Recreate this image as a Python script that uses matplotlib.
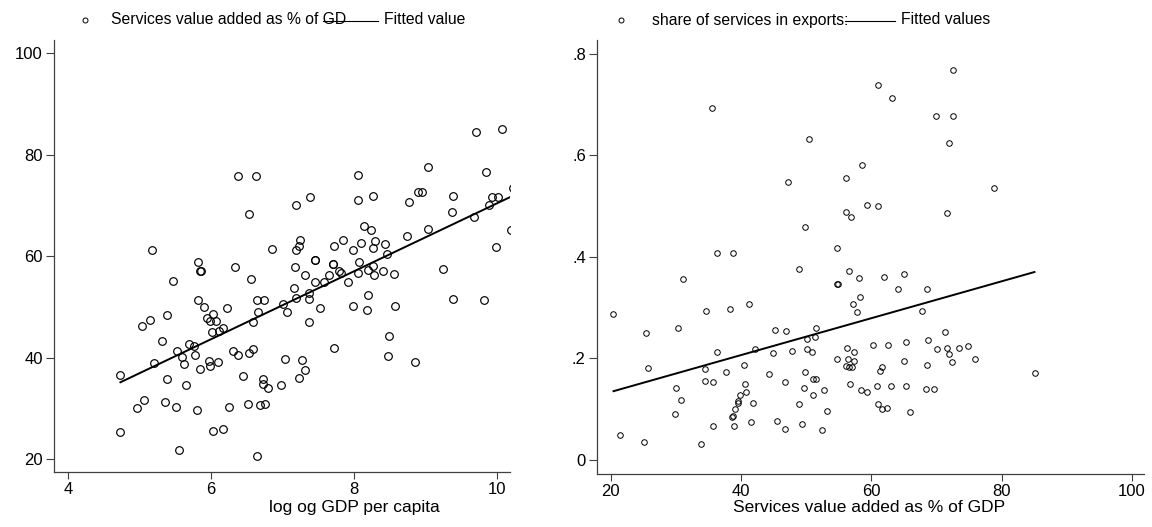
import numpy as np
import matplotlib
matplotlib.use("Agg")
import matplotlib.pyplot as plt
from matplotlib.lines import Line2D
from matplotlib.ticker import FuncFormatter

plt.rcParams['font.family'] = ['Liberation Sans', 'DejaVu Sans']
plt.rcParams['font.size'] = 11

# log GDP per capita vs services value added (% of GDP)
gdp_x = [6.38, 6.63, 6.53, 5.17, 6.85, 5.82, 5.85, 5.86, 6.33, 5.47, 6.56,
         9.71, 10.07, 9.03, 8.05, 9.84, 8.05, 8.26, 7.38, 7.19, 8.89, 8.95, 8.77,
         9.39, 9.93, 10.01, 9.89, 10.22, 10.19, 10.26, 9.37, 9.68, 9.03, 9.99, 8.74,
         8.14, 8.24, 8.29, 8.09, 8.43, 8.26, 8.46, 7.98, 7.84, 7.72, 7.25, 7.23,
         7.19, 7.45, 7.46, 7.70, 7.71, 7.18, 7.31, 7.45, 7.58, 7.65, 7.79, 7.82,
         7.91, 8.07, 8.06, 8.19, 8.26, 8.28, 8.41, 8.56, 9.24, 7.16,
         7.37, 7.19, 7.37, 7.00, 7.06, 7.52, 7.99, 8.18, 8.57, 8.20, 9.39, 9.82,
         7.37, 8.49, 7.72, 8.48, 8.85, 7.04, 7.27, 7.31, 7.23, 6.98,
         5.82, 5.90, 6.22, 6.64, 6.74, 6.65, 5.38, 5.14, 5.04, 6.03, 5.95, 5.99,
         6.07, 6.58, 6.16, 6.11, 6.01, 5.32, 5.69, 5.76, 5.52, 6.31, 6.38, 6.53,
         6.58, 5.59, 5.78, 5.20, 5.62, 5.97, 5.99, 6.09, 4.72, 5.84, 5.38, 5.65,
         6.45, 6.73, 6.73, 6.79, 5.06, 4.97, 5.36, 5.51, 5.80, 6.25, 6.52, 6.68,
         6.75, 4.72, 6.03, 6.16, 5.55, 6.64]
serv_y = [75.9, 75.9, 68.4, 61.3, 61.4, 58.9, 57.2, 57.1, 57.9, 55.2, 55.5,
          84.6, 85.2, 77.7, 76.1, 76.7, 71.2, 72.0, 71.7, 70.2, 72.7, 72.7, 70.7,
          72.0, 71.7, 71.7, 70.2, 73.4, 65.2, 68.8, 68.8, 67.8, 65.4, 61.8, 64.1,
          66.0, 65.2, 63.1, 62.6, 62.5, 61.7, 60.4, 61.2, 63.3, 62.1, 63.2, 62.1,
          61.3, 59.4, 59.4, 58.5, 58.5, 57.9, 56.4, 54.9, 54.9, 56.4, 57.1, 56.7,
          54.9, 58.9, 56.8, 57.3, 58.1, 56.3, 57.2, 56.5, 57.5, 53.7,
          52.9, 51.8, 51.6, 50.6, 49.1, 49.8, 50.2, 49.5, 50.3, 52.5, 51.6, 51.4,
          47.0, 44.4, 42.0, 40.4, 39.2, 39.8, 39.7, 37.6, 36.0, 34.7,
          51.4, 50.1, 49.9, 51.4, 51.4, 49.1, 48.5, 47.4, 46.3, 48.6, 47.8, 47.3,
          47.2, 47.0, 45.9, 45.3, 45.1, 43.3, 42.8, 42.4, 41.4, 41.4, 40.6, 41.0,
          41.8, 40.1, 40.6, 39.1, 38.9, 39.4, 38.5, 39.2, 36.6, 37.9, 35.9, 34.6,
          36.5, 35.9, 34.9, 34.1, 31.8, 30.2, 31.3, 30.3, 29.7, 30.4, 31.0, 30.7,
          30.9, 25.4, 25.7, 26.0, 21.8, 20.6]

# services value added (% of GDP) vs share of services in exports
va_x = [35.6, 47.2, 36.4, 38.8, 31.05, 72.5, 61.1, 63.2, 70.0, 72.5, 50.4, 71.9,
        58.6, 56.1, 59.3, 61.0, 56.2, 56.9, 71.6, 49.9, 54.7, 48.9, 56.6, 58.1,
        62.0, 65.1, 54.8, 54.9, 64.1, 68.5, 58.3, 57.2, 57.8, 67.8, 46.9, 51.5,
        51.3, 50.2, 47.8, 50.1, 50.9, 56.3, 57.3, 60.2, 62.6, 65.4, 68.7, 71.4,
        70.1, 71.6, 71.9, 73.5, 74.9, 72.4, 76.0, 54.7, 56.5, 57.3, 56.2, 56.6,
        57.1, 61.7, 61.4, 65.1, 68.5, 49.8, 46.8, 51.0, 51.5, 49.7, 52.7, 51.1,
        56.8, 58.4, 59.3, 60.9, 63.1, 65.3, 68.4, 69.6, 48.9, 53.2, 61.1, 61.7,
        62.4, 65.9, 46.8, 49.4, 52.4, 20.3, 41.3, 38.3, 34.7, 25.5, 30.3, 45.3,
        36.3, 42.1, 44.9, 25.7, 34.5, 40.4, 37.7, 44.3, 34.5, 35.7, 30.0, 40.6,
        40.8, 39.8, 39.6, 41.8, 39.5, 39.1, 38.8, 38.6, 38.9, 30.8, 29.9, 41.6,
        35.7, 45.6, 21.5, 25.1, 33.9, 78.9, 85.2]
exp_y = [.693, .548, .408, .408, .356, .769, .738, .714, .678, .677, .633, .625,
         .581, .556, .503, .500, .488, .479, .487, .459, .417, .376, .373, .359,
         .361, .366, .346, .346, .337, .336, .321, .308, .292, .293, .254, .260,
         .243, .238, .215, .218, .213, .220, .212, .226, .227, .232, .236, .252,
         .218, .221, .209, .221, .225, .193, .199, .198, .198, .196, .185, .183,
         .183, .184, .176, .195, .187, .173, .154, .160, .160, .142, .137, .129,
         .150, .137, .133, .145, .146, .145, .140, .140, .111, .097, .110, .101,
         .102, .094, .062, .070, .060, .287, .307, .297, .293, .250, .261, .256,
         .213, .218, .210, .181, .179, .187, .173, .169, .156, .153, .141, .150,
         .133, .128, .117, .112, .112, .100, .087, .085, .066, .119, .091, .074,
         .067, .076, .050, .036, .032, .536, .171]


def fitted(ax, x, y):
    x = np.asarray(x)
    b, a = np.polyfit(x, y, 1)
    xs = np.array([x.min(), x.max()])
    ax.plot(xs, a + b * xs, color='black', lw=1.4, solid_capstyle='butt')


def style(ax):
    for s in ['top', 'right']:
        ax.spines[s].set_visible(False)
    for s in ['left', 'bottom']:
        ax.spines[s].set_color('#404040')
        ax.spines[s].set_linewidth(0.9)
    ax.tick_params(axis='y', length=6, width=0.8, color='#404040', pad=2, labelsize=12)
    ax.tick_params(axis='x', length=5, width=0.8, color='#404040', pad=2, labelsize=12)


fig = plt.figure(figsize=(11.52, 5.27), dpi=100)

ax1 = fig.add_axes([0.0469, 0.1044, 0.3958, 0.8197])
ax1.plot(gdp_x, serv_y, 'o', ms=5.5, mfc='none', mec='black', mew=0.85)
fitted(ax1, gdp_x, serv_y)
ax1.set_xlim(3.804, 10.18)
ax1.set_ylim(17.54, 102.66)
ax1.set_xticks([4, 6, 8, 10])
ax1.set_yticks([20, 40, 60, 80, 100])
ax1.set_xlabel('log og GDP per capita', fontsize=12.5)
ax1.xaxis.set_label_coords(0.658, -0.065)
style(ax1)

ax2 = fig.add_axes([0.5182, 0.1006, 0.4748, 0.8235])
ax2.plot(va_x, exp_y, 'o', ms=4.0, mfc='none', mec='black', mew=0.7)
fitted(ax2, va_x, exp_y)
ax2.set_xlim(17.9, 101.86)
ax2.set_ylim(-0.0276, 0.8276)
ax2.set_xticks([20, 40, 60, 80, 100])
ax2.set_yticks([0, .2, .4, .6, .8])
ax2.yaxis.set_major_formatter(FuncFormatter(lambda v, p: '0' if v == 0 else ('%.1f' % v).lstrip('0')))
ax2.set_xlabel('Services value added as % of GDP', fontsize=12.5)
ax2.xaxis.set_label_coords(0.497, -0.06)
style(ax2)

# legends along the top
ly = 1 - 20 / 527
fig.add_artist(Line2D([85 / 1152], [ly], marker='o', ms=3.6, mfc='none', mec='black', mew=0.7, ls='none'))
fig.text(111 / 1152, ly, 'Services value added as % of GD', va='center', ha='left', fontsize=11.3)
fig.add_artist(Line2D([323 / 1152, 378 / 1152], [ly - 0.002, ly - 0.002], color='black', lw=0.8))
fig.text(384 / 1152, ly, 'Fitted value', va='center', ha='left', fontsize=11.3)

fig.add_artist(Line2D([621 / 1152], [ly], marker='o', ms=3.6, mfc='none', mec='black', mew=0.7, ls='none'))
fig.text(652 / 1152, ly, 'share of services in exports:', va='center', ha='left', fontsize=11.3)
fig.add_artist(Line2D([845 / 1152, 895 / 1152], [ly - 0.002, ly - 0.002], color='black', lw=0.8))
fig.text(901 / 1152, ly, 'Fitted values', va='center', ha='left', fontsize=11.3)

fig.savefig('out.png', dpi=100)
